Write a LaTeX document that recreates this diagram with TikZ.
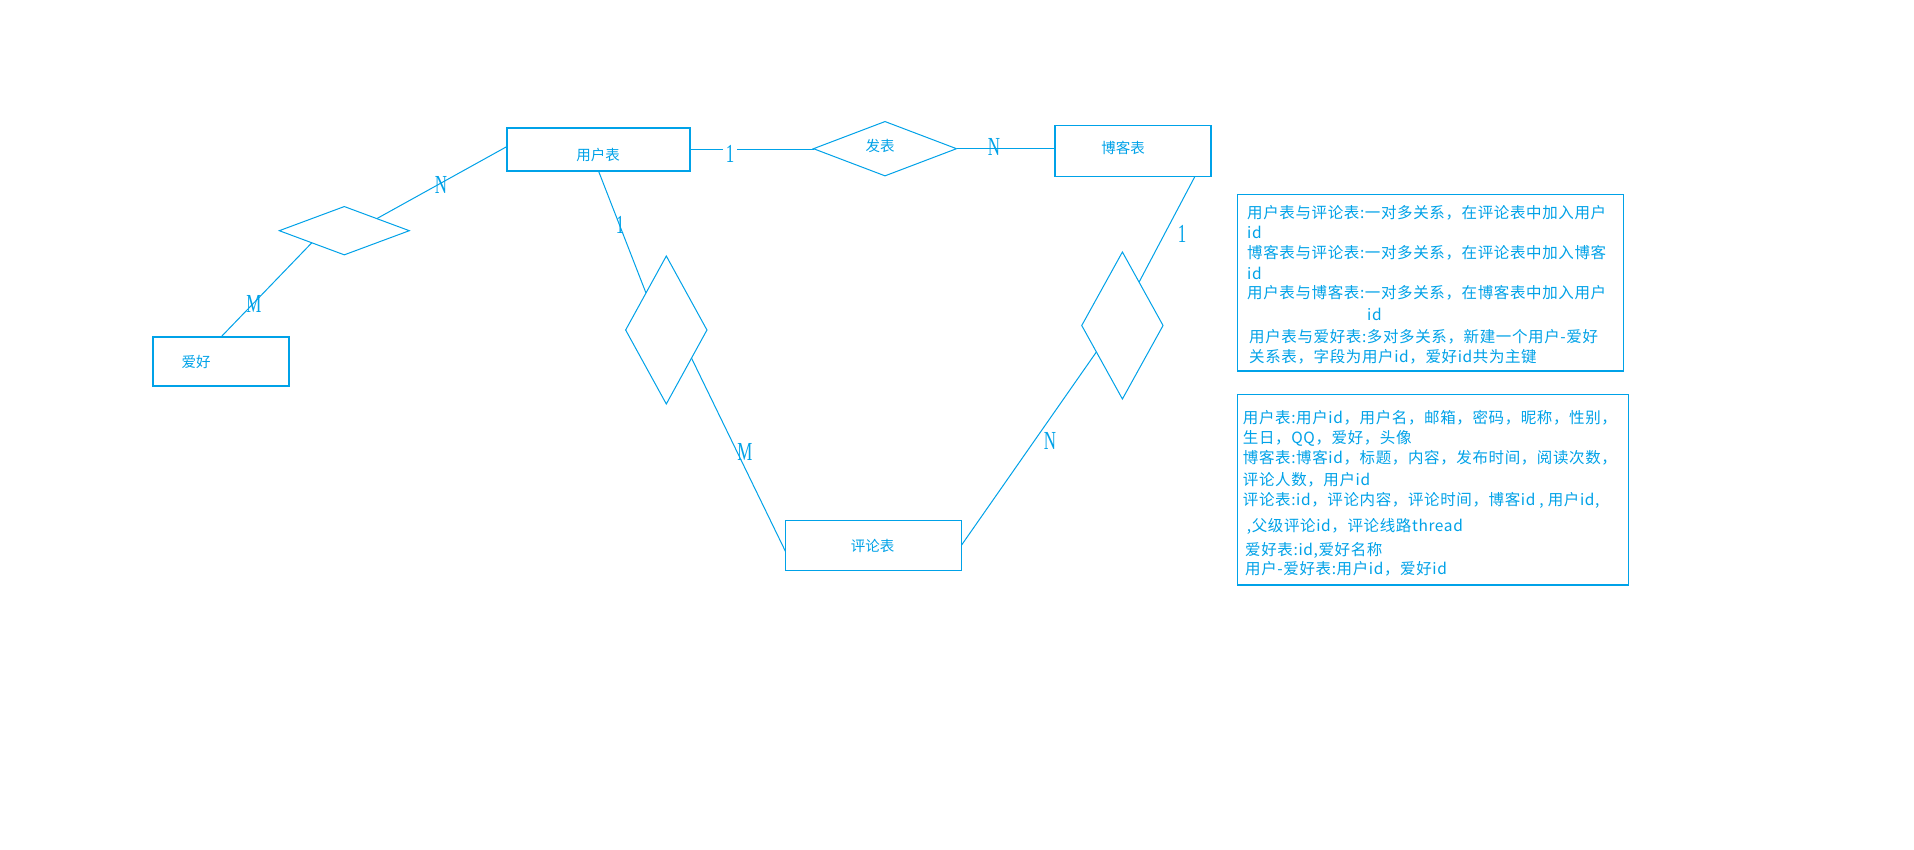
\documentclass[tikz,border=0pt]{standalone}
\usepackage{fontspec}
\usetikzlibrary{shapes.geometric,calc}
\newfontfamily\cjk{Noto Sans CJK SC}
\newfontfamily\cjkinfo[LetterSpace=4]{Noto Sans CJK SC}
\newfontfamily\serifl{Liberation Serif}
\definecolor{pb}{HTML}{00A2E8}
\begin{document}
\begin{tikzpicture}[x=1pt,y=-1pt,
  entbox/.style={draw=pb,line width=1.2pt,rectangle,inner sep=0pt,outer sep=0pt},
  reldia/.style={draw=pb,line width=1pt,diamond,inner sep=0pt,outer sep=0pt},
  conn/.style={draw=pb,line width=1pt},
  etext/.style={text=pb,font=\cjk\fontsize{14.5}{14.5}\selectfont,inner sep=0pt},
  card/.style={text=pb,font=\serifl\fontsize{26}{26}\selectfont,inner sep=0pt},
  info/.style={text=pb,font=\cjkinfo\fontsize{15.5}{15.5}\selectfont,inner sep=0pt,anchor=base west},
  infobox/.style={draw=pb,line width=1.2pt,rectangle,inner sep=0pt,outer sep=0pt}]
\fill[white] (0,0) rectangle (1914,850);
\useasboundingbox (0,0) rectangle (1914,850);

% entities
\node[entbox,minimum width=183pt,minimum height=43pt] (user) at (598.5,149.5) {};
\node[etext] (userT) at (598,155) {用户表};
\node[entbox,minimum width=156pt,minimum height=51pt] (blog) at (1133,150.8) {};
\node[etext] (blogT) at (1123,148) {博客表};
\node[entbox,minimum width=136pt,minimum height=49pt] (hobby) at (221,361.5) {};
\node[etext] (hobbyT) at (196,362) {爱好};
\node[entbox,minimum width=176pt,minimum height=50pt] (cmt) at (873.4,545.3) {};
\node[etext] (cmtT) at (872.6,546) {评论表};

% relations
\node[reldia,minimum width=143pt,minimum height=54.3pt] (fa) at (885,148.7) {};
\node[etext] (faT) at (880,146) {发表};
\node[reldia,minimum width=130pt,minimum height=48.3pt] (ldia) at (344.3,230.7) {};
\node[reldia,minimum width=81.3pt,minimum height=148pt] (vdia) at (666.3,330) {};
\node[reldia,minimum width=81.3pt,minimum height=147pt] (rdia) at (1122.4,325.5) {};

% connectors
\draw[conn] (user.east) -- (user.east -| fa.west);
\draw[conn] (fa.east) -- (fa.east -| blog.west);
\draw[conn] ([yshift=3pt]user.west) -- (ldia.north east);
\draw[conn] (ldia.south west) -- (hobby.north);
\draw[conn] (user.south) -- (vdia.north west);
\draw[conn] ($(vdia.east)!0.38!(vdia.south)$) -- ([yshift=-6pt]cmt.west);
\draw[conn] ([xshift=-16pt]blog.south east) -- ($(rdia.north)!0.41!(rdia.east)$);
\draw[conn] ($(rdia.west)!0.36!(rdia.south)$) -- (cmt.east);

% cardinalities
\node[card,fill=white,inner xsep=2.5pt] (c1) at (730,154) {\scalebox{0.65}[1]{1}};
\node[card] (c2) at (994,147) {\scalebox{0.65}[1]{N}};
\node[card] (c3) at (441,185) {\scalebox{0.65}[1]{N}};
\node[card] (c4) at (254,304) {\scalebox{0.65}[1]{M}};
\node[card] (c5) at (620,225) {\scalebox{0.65}[1]{1}};
\node[card] (c6) at (745,452) {\scalebox{0.65}[1]{M}};
\node[card] (c7) at (1182,234) {\scalebox{0.65}[1]{1}};
\node[card] (c8) at (1050,441) {\scalebox{0.65}[1]{N}};

% info box 1
\node[infobox,minimum width=386pt,minimum height=176.7pt] (info1) at (1430.3,282.7) {};
\node[info] (i1a) at (1247,219) {用户表与评论表:一对多关系，在评论表中加入用户};
\node[info] (i1b) at (1247,239) {id};
\node[info] (i1c) at (1247,259) {博客表与评论表:一对多关系，在评论表中加入博客};
\node[info] (i1d) at (1247,280) {id};
\node[info] (i1e) at (1247,299) {用户表与博客表:一对多关系，在博客表中加入用户};
\node[info] (i1f) at (1367,320) {id};
\node[info] (i1g) at (1249,342) {用户表与爱好表:多对多关系，新建一个用户-爱好};
\node[info] (i1h) at (1249,362) {关系表，字段为用户id，爱好id共为主键};

% info box 2
\node[infobox,minimum width=391pt,minimum height=190.7pt] (info2) at (1432.8,489.7) {};
\node[info] (i2a) at (1242.7,423) {用户表:用户id，用户名，邮箱，密码，昵称，性别，};
\node[info] (i2b) at (1242.7,443) {生日，QQ，爱好，头像};
\node[info] (i2c) at (1242.7,463) {博客表:博客id，标题，内容，发布时间，阅读次数，};
\node[info] (i2d) at (1242.7,485) {评论人数，用户id};
\node[info] (i2e) at (1242.7,505) {评论表:id，评论内容，评论时间，博客id , 用户id,};
\node[info] (i2f) at (1246.7,531) {,父级评论id，评论线路thread};
\node[info] (i2g) at (1245,555) {爱好表:id,爱好名称};
\node[info] (i2h) at (1245,574) {用户-爱好表:用户id，爱好id};
\end{tikzpicture}
\end{document}
